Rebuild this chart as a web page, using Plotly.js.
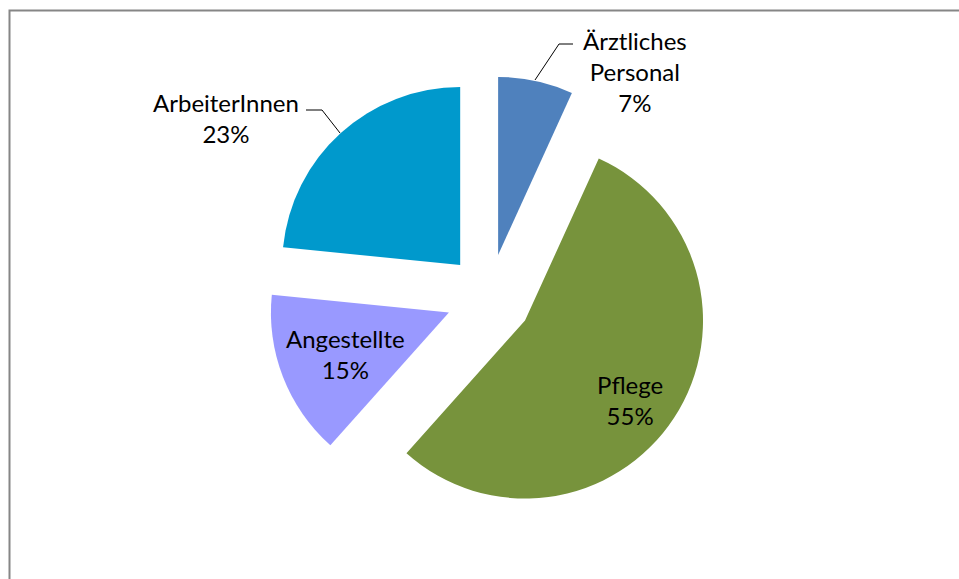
<!DOCTYPE html>
<html>
<head>
<meta charset="utf-8">
<script src="https://cdn.plot.ly/plotly-3.0.1.min.js"></script>
<style>
	html, body { margin: 0; padding: 0; background: #ffffff; }
	#chart { width: 959px; height: 579px; }
</style>
</head>
<body>
<div id="chart"></div>
<script>

// data (share of staff, percent)
var labels = ['Ärztliches<br>Personal', 'Pflege', 'Angestellte', 'ArbeiterInnen'];
var values = [6.8, 54.8, 15.0, 23.4];
var colors = ['#4F81BD', '#77933C', '#9999FF', '#0099CC'];

var W = 959, H = 579;

// pixel -> paper helpers
function px(x) { return x / W; }
function py(y) { return 1 - y / H; }

// pie geometry: centre (489, 297), radius ~178, every slice pulled ~43px
var CX = 489, CY = 297, PULL = 0.2416, R = 178;
var half = R * (1 + PULL);

var trace = {
	type: 'pie',
	labels: labels,
	values: values,
	sort: false,
	direction: 'clockwise',
	rotation: 0,
	pull: [PULL, PULL, PULL, PULL],
	marker: {colors: colors, line: {width: 0}},
	textinfo: 'none',
	hoverinfo: 'none',
	showlegend: false,
	domain: {
		x: [px(CX - half), px(CX + half)],
		y: [py(CY + half), py(CY - half)]
	}
};

var total = values.reduce(function(a, b) { return a + b; }, 0);

// label boxes (text centre, pixels)
var labelPos = [[635, 71], [630, 400], [345, 354], [226, 118]];

var annotations = [];
for (var i = 0; i < labels.length; i++) {
	annotations.push({
		xref: 'paper', yref: 'paper',
		x: px(labelPos[i][0]), y: py(labelPos[i][1]),
		xanchor: 'center', yanchor: 'middle',
		text: labels[i] + '<br>' + Math.round(values[i] / total * 100) + '%',
		showarrow: false,
		align: 'center',
		font: {family: 'Lato, "Open Sans", sans-serif', size: 24, color: '#000000'}
	});
}

function pathOf(pts) {
	return pts.map(function(p, k) {
		return (k ? 'L' : 'M') + px(p[0]) + ',' + py(p[1]);
	}).join(' ');
}

var shapes = [
	// chart frame (right and bottom edges fall outside the picture)
	{type: 'rect', xref: 'paper', yref: 'paper',
	 x0: px(9.5), x1: 1.05, y0: -0.05, y1: py(10.5),
	 line: {color: '#868686', width: 2}},
	// leader lines
	{type: 'path', xref: 'paper', yref: 'paper',
	 path: pathOf([[535, 80], [559, 44], [573, 44]]),
	 line: {color: '#000000', width: 1}},
	{type: 'path', xref: 'paper', yref: 'paper',
	 path: pathOf([[306, 110], [322, 110], [340, 133]]),
	 line: {color: '#000000', width: 1}}
];

var layout = {
	width: W, height: H,
	margin: {l: 0, r: 0, t: 0, b: 0},
	paper_bgcolor: '#ffffff',
	showlegend: false,
	annotations: annotations,
	shapes: shapes
};

Plotly.newPlot('chart', [trace], layout, {displayModeBar: false, staticPlot: true});

</script>
</body>
</html>
